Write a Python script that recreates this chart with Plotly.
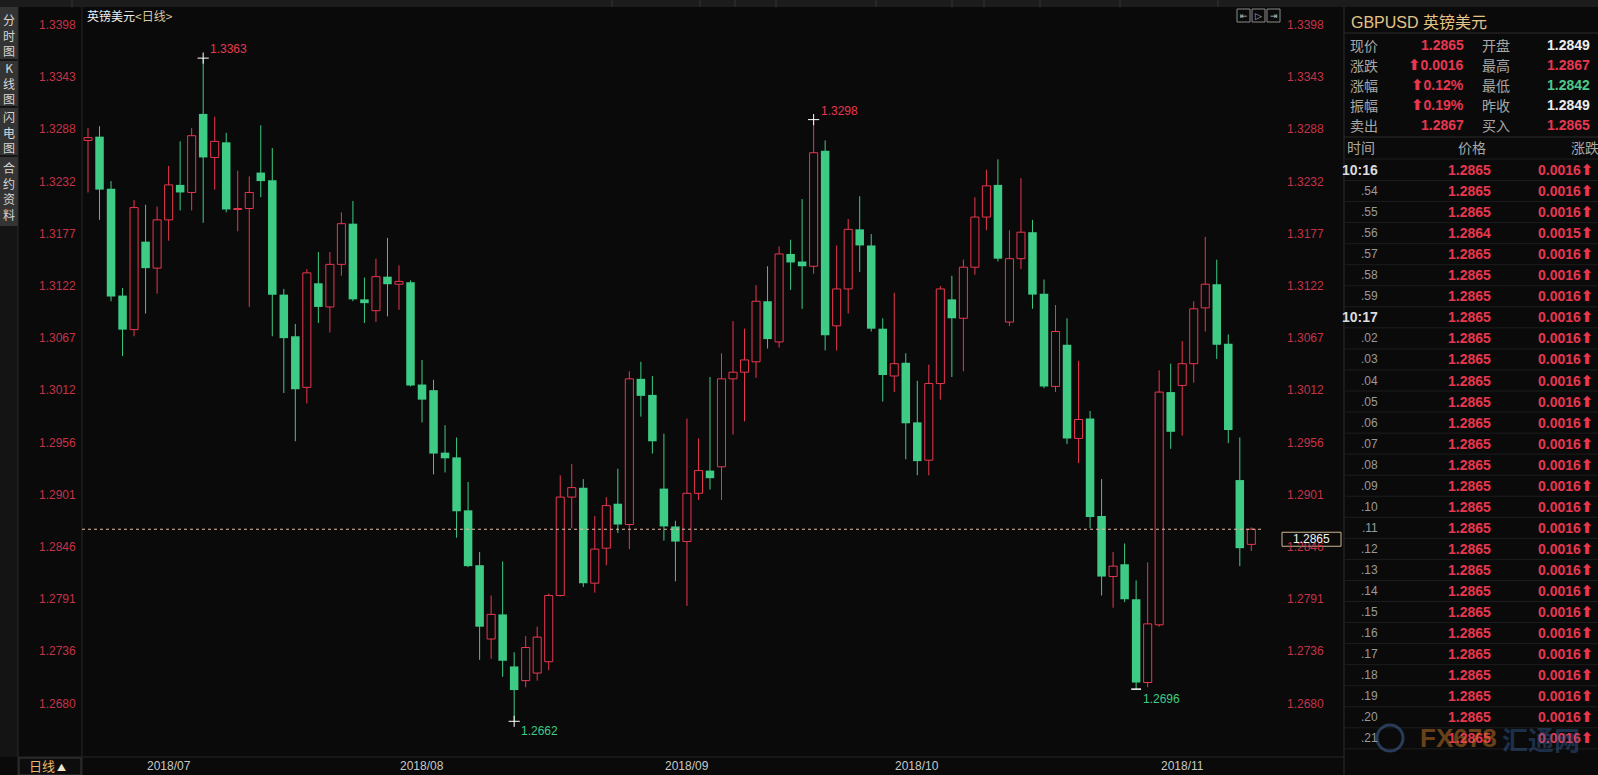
import plotly.graph_objects as go

W, H = 1598, 775
BG = "#0a0a0a"
RED = "#e8374f"
RED_AX = "#c53348"
GREEN = "#3ecb85"
TAN = "#e3c488"
GRAY = "#a8a8a8"
CJK = "Noto Sans CJK SC"
NUM = "Arial, Liberation Sans, sans-serif"

# ---------------- data ----------------
opens = [1.3276, 1.3280, 1.3225, 1.3112, 1.3076, 1.3169, 1.3141, 1.3192, 1.3229, 1.3221,
         1.3304, 1.3258, 1.3274, 1.3203, 1.3204, 1.3242, 1.3234, 1.3113, 1.3069, 1.3015,
         1.3125, 1.3100, 1.3145, 1.3188, 1.3108, 1.3096, 1.3132, 1.3124, 1.3126, 1.3018,
         1.3012, 1.2946, 1.2941, 1.2885, 1.2827, 1.2749, 1.2775, 1.2720, 1.2705, 1.2713,
         1.2725, 1.2795, 1.2899, 1.2909, 1.2808, 1.2845, 1.2892, 1.2870, 1.3024, 1.3007,
         1.2908, 1.2868, 1.2852, 1.2903, 1.2927, 1.2931, 1.3024, 1.3031, 1.3042, 1.3106,
         1.3063, 1.3156, 1.3148, 1.3143, 1.3265, 1.3080, 1.3119, 1.3182, 1.3165, 1.3077,
         1.3027, 1.3041, 1.2978, 1.2938, 1.3019, 1.3108, 1.3088, 1.3142, 1.3195, 1.3229,
         1.3084, 1.3151, 1.3179, 1.3114, 1.3016, 1.3060, 1.2961, 1.2982, 1.2879, 1.2815,
         1.2828, 1.2791, 1.2703, 1.2764, 1.3010, 1.3017, 1.3040, 1.3099, 1.3124, 1.3061,
         1.2917, 1.2849]
highs = [1.3289, 1.3291, 1.3233, 1.3120, 1.3213, 1.3208, 1.3206, 1.3249, 1.3275, 1.3289,
         1.3363, 1.3301, 1.3284, 1.3244, 1.3238, 1.3292, 1.3268, 1.3119, 1.3082, 1.3140,
         1.3158, 1.3158, 1.3200, 1.3212, 1.3131, 1.3151, 1.3173, 1.3144, 1.3128, 1.3044,
         1.3023, 1.2975, 1.2962, 1.2915, 1.2841, 1.2795, 1.2831, 1.2735, 1.2752, 1.2762,
         1.2797, 1.2922, 1.2934, 1.2918, 1.2879, 1.2899, 1.2929, 1.3032, 1.3042, 1.3027,
         1.2966, 1.2874, 1.2982, 1.2961, 1.3026, 1.3051, 1.3085, 1.3077, 1.3123, 1.3143,
         1.3164, 1.3171, 1.3214, 1.3298, 1.3276, 1.3165, 1.3193, 1.3217, 1.3177, 1.3088,
         1.3115, 1.3051, 1.3022, 1.3039, 1.3122, 1.3133, 1.3150, 1.3216, 1.3245, 1.3256,
         1.3181, 1.3236, 1.3192, 1.3129, 1.3102, 1.3088, 1.3043, 1.2990, 1.2918, 1.2841,
         1.2850, 1.2811, 1.2830, 1.3033, 1.3040, 1.3064, 1.3106, 1.3174, 1.3150, 1.3071,
         1.2962, 1.2867]
lows = [1.3221, 1.3192, 1.3106, 1.3048, 1.3069, 1.3093, 1.3114, 1.3170, 1.3202, 1.3202,
        1.3189, 1.3224, 1.3200, 1.3180, 1.3100, 1.3216, 1.3069, 1.3009, 1.2958, 1.2998,
        1.3083, 1.3073, 1.3133, 1.3106, 1.3083, 1.3084, 1.3090, 1.3097, 1.3016, 1.2978,
        1.2923, 1.2925, 1.2856, 1.2825, 1.2727, 1.2728, 1.2709, 1.2662, 1.2698, 1.2705,
        1.2716, 1.2794, 1.2866, 1.2804, 1.2798, 1.2827, 1.2861, 1.2844, 1.2984, 1.2945,
        1.2853, 1.2810, 1.2784, 1.2896, 1.2907, 1.2896, 1.2965, 1.2979, 1.3025, 1.3056,
        1.3057, 1.3118, 1.3098, 1.3135, 1.3054, 1.3054, 1.3093, 1.3137, 1.3074, 1.3000,
        1.3010, 1.2939, 1.2922, 1.2922, 1.3002, 1.3026, 1.3032, 1.3134, 1.3181, 1.3148,
        1.3080, 1.3140, 1.3098, 1.3014, 1.3010, 1.2955, 1.2935, 1.2866, 1.2795, 1.2782,
        1.2788, 1.2696, 1.2698, 1.2762, 1.2950, 1.2964, 1.3020, 1.3074, 1.3045, 1.2956,
        1.2826, 1.2842]
closes = [1.3279, 1.3224, 1.3111, 1.3076, 1.3205, 1.3141, 1.3192, 1.3229, 1.3221, 1.3281,
          1.3258, 1.3275, 1.3203, 1.3204, 1.3221, 1.3233, 1.3113, 1.3067, 1.3013, 1.3136,
          1.3100, 1.3145, 1.3188, 1.3108, 1.3104, 1.3132, 1.3124, 1.3127, 1.3017, 1.3002,
          1.2945, 1.2940, 1.2884, 1.2826, 1.2762, 1.2775, 1.2726, 1.2695, 1.2740, 1.2751,
          1.2795, 1.2899, 1.2909, 1.2808, 1.2844, 1.2890, 1.2870, 1.3024, 1.3006, 1.2958,
          1.2868, 1.2852, 1.2903, 1.2927, 1.2919, 1.3024, 1.3031, 1.3044, 1.3106, 1.3066,
          1.3156, 1.3147, 1.3143, 1.3263, 1.3070, 1.3119, 1.3182, 1.3165, 1.3077, 1.3028,
          1.3040, 1.2977, 1.2937, 1.3019, 1.3119, 1.3088, 1.3142, 1.3195, 1.3228, 1.3151,
          1.3151, 1.3179, 1.3113, 1.3016, 1.3074, 1.2961, 1.2981, 1.2878, 1.2815, 1.2826,
          1.2791, 1.2703, 1.2765, 1.3010, 1.2968, 1.3040, 1.3098, 1.3124, 1.3060, 1.2970,
          1.2845, 1.2865]

month_labels = ["2018/07", "2018/08", "2018/09", "2018/10", "2018/11"]
month_index = [7, 29, 52, 72, 95]

tick_values = [1.3398, 1.3343, 1.3288, 1.3232, 1.3177, 1.3122, 1.3067,
               1.3012, 1.2956, 1.2901, 1.2846, 1.2791, 1.2736, 1.2680]

last_price = 1.2865

quote_labels_left = ["现价", "涨跌", "涨幅", "振幅", "卖出"]
quote_values_left = ["1.2865", "0.0016", "0.12%", "0.19%", "1.2867"]
quote_arrow_left = [False, True, True, True, False]
quote_labels_right = ["开盘", "最高", "最低", "昨收", "买入"]
quote_values_right = ["1.2849", "1.2867", "1.2842", "1.2849", "1.2865"]

tick_times = ["10:16", ".54", ".55", ".56", ".57", ".58", ".59", "10:17", ".02", ".03",
              ".04", ".05", ".06", ".07", ".08", ".09", ".10", ".11", ".12", ".13",
              ".14", ".15", ".16", ".17", ".18", ".19", ".20", ".21"]
tick_prices = ["1.2865", "1.2865", "1.2865", "1.2864", "1.2865", "1.2865", "1.2865", "1.2865",
               "1.2865", "1.2865", "1.2865", "1.2865", "1.2865", "1.2865", "1.2865", "1.2865",
               "1.2865", "1.2865", "1.2865", "1.2865", "1.2865", "1.2865", "1.2865", "1.2865",
               "1.2865", "1.2865", "1.2865", "1.2865"]
tick_changes = ["0.0016", "0.0016", "0.0016", "0.0015", "0.0016", "0.0016", "0.0016", "0.0016",
                "0.0016", "0.0016", "0.0016", "0.0016", "0.0016", "0.0016", "0.0016", "0.0016",
                "0.0016", "0.0016", "0.0016", "0.0016", "0.0016", "0.0016", "0.0016", "0.0016",
                "0.0016", "0.0016", "0.0016", "0.0016"]

# ---------------- geometry ----------------
PX_L, PX_R = 82, 1262        # plot area, pixels
PX_T, PX_B = 22, 757
FIRST_PX, STEP_PX = 88, 11.518
REF_P, REF_Y, PER_PX = 1.3398, 25, 0.0001057


def px(x):
    return x / W


def py(y):
    return 1 - y / H


x_range = [(PX_L - FIRST_PX) / STEP_PX, (PX_R - FIRST_PX) / STEP_PX]
y_range = [REF_P - (PX_B - REF_Y) * PER_PX, REF_P - (PX_T - REF_Y) * PER_PX]

n = len(opens)
idx = list(range(n))
up = [i for i in idx if closes[i] >= opens[i]]
dn = [i for i in idx if closes[i] < opens[i]]

fig = go.Figure()

# wicks
wx, wy = [], []
for i in dn:
    wx += [i, i, None]
    wy += [highs[i], lows[i], None]
fig.add_trace(go.Scatter(x=wx, y=wy, mode="lines", line=dict(color=GREEN, width=1),
                         hoverinfo="skip"))
wx, wy = [], []
for i in up:
    wx += [i, i, None, i, i, None]
    wy += [highs[i], closes[i], None, opens[i], lows[i], None]
fig.add_trace(go.Scatter(x=wx, y=wy, mode="lines", line=dict(color=RED, width=1),
                         hoverinfo="skip"))

# bodies
fig.add_trace(go.Bar(x=dn, base=[closes[i] for i in dn],
                     y=[opens[i] - closes[i] for i in dn], width=0.74,
                     marker=dict(color=GREEN, line=dict(width=0))))
fig.add_trace(go.Bar(x=up, base=[opens[i] for i in up],
                     y=[max(closes[i] - opens[i], 0.00003) for i in up], width=0.7,
                     marker=dict(color=BG, line=dict(color=RED, width=1))))

# extreme markers
i_hi = max(range(0, 40), key=lambda k: highs[k])
i_hi2 = max(range(40, 90), key=lambda k: highs[k])
i_lo = min(range(0, 60), key=lambda k: lows[k])
i_lo2 = min(range(60, n), key=lambda k: lows[k])
fig.add_trace(go.Scatter(x=[i_hi, i_hi2, i_lo], y=[highs[i_hi], highs[i_hi2], lows[i_lo]],
                         mode="markers",
                         marker=dict(symbol="cross-thin", size=8,
                                     line=dict(color="#ffffff", width=1))))
fig.add_trace(go.Scatter(x=[i_lo2], y=[lows[i_lo2]], mode="markers",
                         marker=dict(symbol="line-ew", size=7,
                                     line=dict(color="#ffffff", width=1.5))))

shapes = []
ann = []


def rect(x0, y0, x1, y1, fill=None, line=None, lw=1, layer="below"):
    shapes.append(dict(type="rect", xref="paper", yref="paper", x0=px(x0), x1=px(x1),
                       y0=py(y0), y1=py(y1), fillcolor=fill or "rgba(0,0,0,0)",
                       line=dict(color=line or "rgba(0,0,0,0)", width=lw if line else 0),
                       layer=layer))


def hline(x0, x1, y, color, w=1, layer="below"):
    shapes.append(dict(type="line", xref="paper", yref="paper", x0=px(x0), x1=px(x1),
                       y0=py(y), y1=py(y), line=dict(color=color, width=w), layer=layer))


def vline(x, y0, y1, color, w=1, layer="below"):
    shapes.append(dict(type="line", xref="paper", yref="paper", x0=px(x), x1=px(x),
                       y0=py(y0), y1=py(y1), line=dict(color=color, width=w), layer=layer))


def text(x, y, s, color, size, family=NUM, xanchor="left", yanchor="middle", bold=False):
    if bold:
        s = "<b>" + s + "</b>"
    ann.append(dict(x=px(x), y=py(y), xref="paper", yref="paper", text=s, showarrow=False,
                    xanchor=xanchor, yanchor=yanchor,
                    font=dict(color=color, size=size, family=family)))


# ---- frame / chrome ----
rect(0, 0, W, 7, fill="#1c1c1c")
for xx in [72, 612, 700, 735, 776, 876, 952, 984, 1040, 1120, 1218]:
    vline(xx, 0, 7, "#333333")
rect(0, 7, 18, 226, fill="#343434")
rect(0, 226, 18, 757, fill="#141414")
for yy in [60, 107, 156]:
    hline(0, 18, yy, "#151515", 2)
vline(18, 7, H, "#2a2a2a")
vline(PX_L, 7, H, "#262626")
vline(1344, 7, H, "#2c2c2c")
hline(18, 1344, 757, "#262626")
rect(19, 758, 81, 775, fill="#0d0d0d", line="#3a3a3a")

# sidebar labels
for s, yc in [("分<br>时<br>图", 35), ("K<br>线<br>图", 83), ("闪<br>电<br>图", 132),
              ("合<br>约<br>资<br>料", 191)]:
    text(9, yc, s, "#d6d6d6", 12, CJK, xanchor="center")

# title
text(85, 15.5, "英镑美元<span style='color:#d8c7a0'>&lt;日线&gt;</span>", "#f0f0f0", 12, CJK)

# top-right icons
for k, g in enumerate(["⇤", "▷", "⇥"]):
    x0 = 1237 + k * 15
    rect(x0, 9, x0 + 13, 22, line="#8a8a8a", lw=1, layer="above")
    text(x0 + 6.5, 15.5, g, "#bdbdbd", 9, "DejaVu Sans", xanchor="center")

# axis tick labels
for v in tick_values:
    ann.append(dict(x=px(78), y=v, xref="paper", yref="y", text="%.4f" % v,
                    showarrow=False, xanchor="right", yanchor="middle",
                    font=dict(color=RED_AX, size=12, family=NUM)))
    ann.append(dict(x=px(1285), y=v, xref="paper", yref="y", text="%.4f" % v,
                    showarrow=False, xanchor="left", yanchor="middle",
                    font=dict(color=RED_AX, size=12, family=NUM)))

# month labels
for lab, mi in zip(month_labels, month_index):
    ann.append(dict(x=mi, y=py(766), xref="x", yref="paper", text=lab, showarrow=False,
                    xanchor="center", yanchor="middle",
                    font=dict(color="#c8c8c8", size=12, family=NUM)))
text(27, 765.5, "日线<span style='color:#f0e6d0;font-size:9px'> ▲</span>", "#e6b86e", 13, CJK)

# extreme labels
for i, v, col, ys in [(i_hi, highs[i_hi], RED, 9), (i_hi2, highs[i_hi2], RED, 9),
                      (i_lo, lows[i_lo], GREEN, -10), (i_lo2, lows[i_lo2], GREEN, -10)]:
    ann.append(dict(x=i, y=v, xref="x", yref="y", text="%.4f" % v, showarrow=False,
                    xanchor="left", yanchor="middle", xshift=5, yshift=ys,
                    font=dict(color=col, size=12, family=NUM)))

# last price line + box
shapes.append(dict(type="line", xref="paper", yref="y", x0=px(PX_L), x1=px(PX_R),
                   y0=last_price, y1=last_price,
                   line=dict(color="#e9b9a2", width=1, dash="3px,3px"), layer="above"))
shapes.append(dict(type="rect", xref="paper", yref="y", xsizemode="scaled",
                   ysizemode="pixel", yanchor=last_price, x0=px(1282), x1=px(1341),
                   y0=-3, y1=-17, fillcolor=BG, line=dict(color="#cdb48e", width=1),
                   layer="above"))
ann.append(dict(x=px(1311.5), y=last_price, xref="paper", yref="y", yshift=-10,
                text="%.4f" % last_price, showarrow=False, xanchor="center",
                yanchor="middle", font=dict(color="#f2f2f2", size=12, family=NUM)))

# ---- right quote panel ----
text(1349, 20.5, "GBPUSD <span style='font-family:Noto Sans CJK SC'>英镑美元</span>",
     TAN, 16, NUM)
hline(1344, W, 33, "#2a2a2a")
hline(1344, W, 137, "#2a2a2a")
arrow = "<span style='font-family:DejaVu Sans;font-size:15px'>⬆</span>"
right_cols = ["#eeeeee", RED, "#4cc88c", "#eeeeee", RED]
for k in range(5):
    yy = 45 + 20 * k
    text(1348, yy, quote_labels_left[k], GRAY, 14, CJK)
    s = (arrow if quote_arrow_left[k] else "") + quote_values_left[k]
    text(1466, yy, s, RED, 14, NUM, xanchor="right", bold=True)
    text(1480, yy, quote_labels_right[k], GRAY, 14, CJK)
    text(1592, yy, quote_values_right[k], right_cols[k], 14, NUM, xanchor="right", bold=True)

text(1345, 147, "时间", GRAY, 14, CJK)
text(1472, 147, "价格", GRAY, 14, CJK, xanchor="center")
text(1569, 147, "涨跌", GRAY, 14, CJK)
hline(1344, W, 159, "#1d1d1d")
for k in range(len(tick_times)):
    yy = 170 + 21.05 * k
    t = tick_times[k]
    if ":" in t:
        text(1380, yy, t, "#dcdcdc", 14, NUM, xanchor="right", bold=True)
    else:
        text(1380, yy, t, "#9a9a9a", 12, NUM, xanchor="right")
    text(1469, yy, tick_prices[k], RED, 14, NUM, xanchor="center", bold=True)
    text(1595, yy, tick_changes[k] + arrow, RED, 14, NUM, xanchor="right", bold=True)
    hline(1344, W, yy + 10.5, "#1d1d1d")

# watermark
shapes.append(dict(type="circle", xref="paper", yref="paper", x0=px(1377), x1=px(1403),
                   y0=py(751), y1=py(725), line=dict(color="rgba(70,110,170,0.5)", width=3),
                   layer="above"))
text(1418, 738, "<b>FX678</b>", "rgba(200,120,40,0.5)", 26, NUM)
text(1500, 738, "<b>汇通网</b>", "rgba(60,110,180,0.4)", 26, CJK)

fig.update_layout(
    width=W, height=H, margin=dict(l=0, r=0, t=0, b=0),
    paper_bgcolor=BG, plot_bgcolor=BG, showlegend=False, barmode="overlay",
    hovermode=False,
    xaxis=dict(domain=[px(PX_L), px(PX_R)], range=x_range, visible=False, fixedrange=True),
    yaxis=dict(domain=[py(PX_B), py(PX_T)], range=y_range, visible=False, fixedrange=True),
    shapes=shapes, annotations=ann,
)

fig.write_html("out.html", config={"displayModeBar": False},
               post_script="document.body.style.margin='0';"
                           "document.body.style.background='#0a0a0a';")
